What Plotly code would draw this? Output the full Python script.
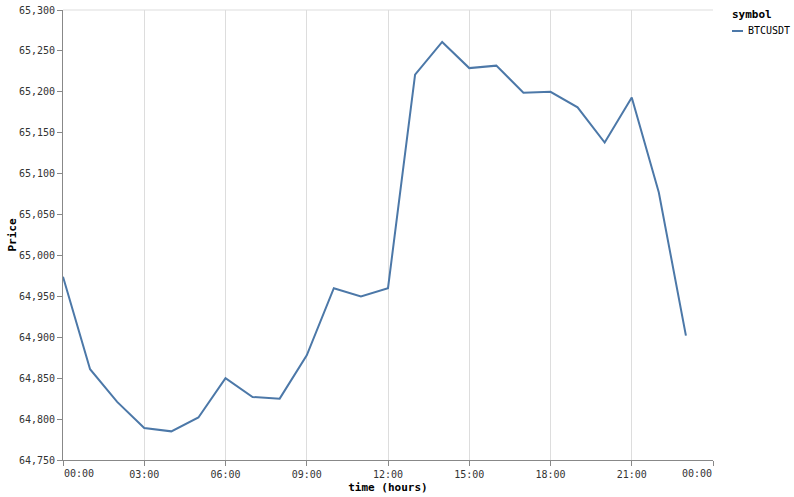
import plotly.graph_objects as go

hours = list(range(24))
times = [f"2024-01-01 {h:02d}:00" for h in hours]
price = [64974, 64861, 64821, 64789, 64785, 64802, 64850, 64827, 64825, 64878,
         64960, 64950, 64960, 65221, 65261, 65229, 65232, 65199, 65200, 65181,
         65138, 65193, 65077, 64902]
symbol = "BTCUSDT"
y_ticks = list(range(64750, 65301, 50))
x_tick_vals = [f"2024-01-01 {h:02d}:00" for h in range(0, 24, 3)] + ["2024-01-02 00:00"]
x_tick_text = ["00:00", "03:00", "06:00", "09:00", "12:00", "15:00", "18:00", "21:00", "00:00"]

font = "DejaVu Sans Mono"
color = "#4c78a8"

W, H = 794, 497
L, R, T, B = 63, 81, 10, 37

fig = go.Figure()
fig.add_trace(go.Scatter(x=times, y=price, mode="lines", name=symbol,
                         line=dict(color=color, width=2), showlegend=False))

mid_text = [""] + x_tick_text[1:-1] + [""]

fig.update_layout(
    width=W, height=H,
    margin=dict(l=L, r=R, t=T, b=B, autoexpand=False),
    plot_bgcolor="white", paper_bgcolor="white",
    font=dict(family=font, size=10, color="#333"),
    xaxis=dict(
        range=[x_tick_vals[0], x_tick_vals[-1]],
        tickvals=x_tick_vals, ticktext=mid_text,
        showgrid=True, gridcolor="#ddd", gridwidth=1,
        showline=True, linecolor="#888", linewidth=1,
        ticks="outside", ticklen=5, tickcolor="#888",
        tickfont=dict(family=font, size=10, color="#333"),
        zeroline=False, automargin=False,
        title=dict(text="<b>time (hours)</b>", font=dict(family=font, size=11, color="#000"), standoff=4),
    ),
    yaxis=dict(
        range=[64750, 65300],
        tickvals=y_ticks, tickformat=",d",
        showgrid=False,
        showline=True, linecolor="#888", linewidth=1,
        ticks="outside", ticklen=5, tickcolor="#888",
        tickfont=dict(family=font, size=10, color="#333"),
        zeroline=False, automargin=False,
        title=dict(text="<b>Price</b>", font=dict(family=font, size=11, color="#000"), standoff=0),
    ),
)

fig.add_shape(type="line", xref="paper", yref="paper", x0=0, x1=1, y0=1, y1=1,
              line=dict(color="#ddd", width=1), layer="below")

fig.add_annotation(x=x_tick_vals[0], y=0, xref="x", yref="paper", text=x_tick_text[0],
                   showarrow=False, xanchor="left", yanchor="top", yshift=-6, xshift=-1,
                   font=dict(family=font, size=10, color="#333"))
fig.add_annotation(x=x_tick_vals[-1], y=0, xref="x", yref="paper", text=x_tick_text[-1],
                   showarrow=False, xanchor="right", yanchor="top", yshift=-6, xshift=1,
                   font=dict(family=font, size=10, color="#333"))

pw = W - L - R
ph = H - T - B
def px(xw):
    return (xw - L) / pw
def py(yw):
    return 1 - (yw - T) / ph

fig.add_annotation(x=px(730), y=py(15), xref="paper", yref="paper", text="<b>symbol</b>",
                   showarrow=False, xanchor="left", yanchor="middle",
                   font=dict(family=font, size=11, color="#000"))
fig.add_shape(type="line", xref="paper", yref="paper", x0=px(732), x1=px(743), y0=py(31), y1=py(31),
              line=dict(color=color, width=2))
fig.add_annotation(x=px(746), y=py(31), xref="paper", yref="paper", text=symbol,
                   showarrow=False, xanchor="left", yanchor="middle",
                   font=dict(family=font, size=10, color="#000"))

fig.write_html("out.html", config={"displayModeBar": False},
               post_script="document.body.style.margin='0';")
